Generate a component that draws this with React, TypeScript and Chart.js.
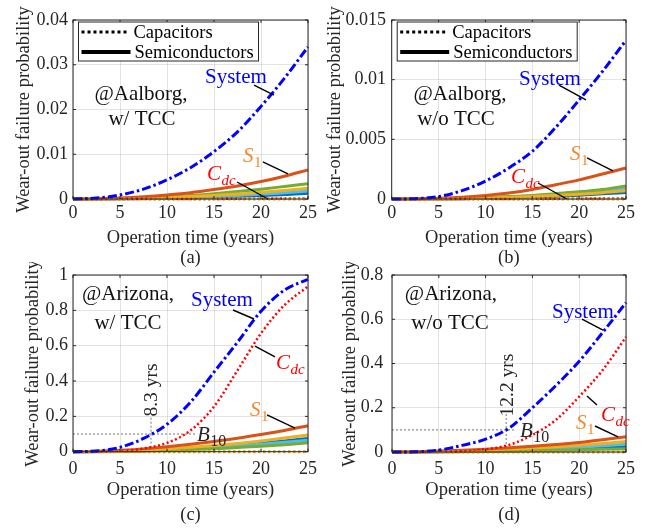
import React, { useEffect, useRef } from "react";
import { Chart, registerables } from "chart.js";

Chart.register(...registerables);

// ---------- data ----------
const years = [0, 2.5, 5, 7.5, 10, 12.5, 15, 17.5, 20, 22.5, 25];

// (a) Aalborg, w/ TCC
const sysA = [0, 0.0002, 0.0009, 0.0022, 0.0043, 0.007, 0.0106, 0.015, 0.0207, 0.027, 0.034];
const cdcA = [0, 0, 0, 0, 0, 0.00001, 0.00002, 0.00004, 0.00007, 0.0001, 0.00015];
const s1A = [0, 0.00003, 0.0002, 0.0005, 0.0009, 0.0014, 0.0021, 0.0029, 0.0039, 0.0051, 0.0065];
const yellowA = [0, 0.00001, 0.00007, 0.00018, 0.00035, 0.00055, 0.0008, 0.0011, 0.0015, 0.0019, 0.0024];
const greenA = [0, 0.00001, 0.0001, 0.00025, 0.0005, 0.0008, 0.0012, 0.0017, 0.0022, 0.0028, 0.0034];
const lblueA = [0, 0.00001, 0.00005, 0.00013, 0.00026, 0.0004, 0.0006, 0.0008, 0.0011, 0.0014, 0.0018];
const dblueA = [0, 0, 0.00004, 0.0001, 0.0002, 0.0003, 0.00045, 0.0006, 0.0008, 0.001, 0.0013];
const capA = [0, 0, 0, 0, 0, 0, 0, 0, 0, 0, 0];

// (b) Aalborg, w/o TCC
const sysB = [0, 0.00003, 0.0002, 0.0007, 0.0015, 0.0026, 0.004, 0.006, 0.0083, 0.0107, 0.0133];
const cdcB = [0, 0, 0, 0, 0, 0, 0.00001, 0.00002, 0.00003, 0.00004, 0.00006];
const s1B = [0, 0.00001, 0.00006, 0.00015, 0.0003, 0.0005, 0.0008, 0.0012, 0.0016, 0.0021, 0.0026];
const yellowB = [0, 0, 0.00001, 0.00004, 0.00008, 0.00013, 0.0002, 0.0003, 0.0004, 0.00053, 0.0007];
const greenB = [0, 0, 0.00002, 0.00006, 0.00012, 0.0002, 0.0003, 0.00045, 0.0006, 0.0008, 0.0011];
const lblueB = [0, 0, 0.00002, 0.00005, 0.0001, 0.00017, 0.00027, 0.0004, 0.00055, 0.0007, 0.0009];
const dblueB = [0, 0, 0.00001, 0.00003, 0.00006, 0.0001, 0.00016, 0.00023, 0.00032, 0.00043, 0.00055];
const capB = [0, 0, 0, 0, 0, 0, 0, 0, 0, 0, 0];

// (c) Arizona, w/ TCC
const sysC = [0, 0.004, 0.025, 0.075, 0.155, 0.28, 0.45, 0.62, 0.795, 0.915, 0.975];
const cdcC = [0, 0.0005, 0.004, 0.018, 0.05, 0.12, 0.255, 0.46, 0.67, 0.83, 0.935];
const s1C = [0, 0.002, 0.008, 0.016, 0.028, 0.042, 0.058, 0.076, 0.097, 0.12, 0.147];
const yellowC = [0, 0.001, 0.004, 0.009, 0.016, 0.025, 0.035, 0.047, 0.061, 0.077, 0.095];
const greenC = [0, 0.0004, 0.0017, 0.004, 0.008, 0.012, 0.017, 0.024, 0.031, 0.04, 0.05];
const lblueC = [0, 0.0006, 0.0025, 0.006, 0.011, 0.017, 0.024, 0.033, 0.042, 0.053, 0.065];
const dblueC = [0, 0.0008, 0.003, 0.007, 0.013, 0.02, 0.028, 0.038, 0.049, 0.061, 0.075];
const capC = [0, 0, 0, 0, 0, 0, 0, 0, 0, 0, 0];

// (d) Arizona, w/o TCC
const sysD = [0, 0.001, 0.009, 0.03, 0.058, 0.108, 0.2, 0.3, 0.41, 0.54, 0.675];
const cdcD = [0, 0, 0.0005, 0.003, 0.012, 0.032, 0.077, 0.145, 0.25, 0.37, 0.52];
const s1D = [0, 0.001, 0.004, 0.008, 0.013, 0.019, 0.026, 0.034, 0.043, 0.055, 0.069];
const yellowD = [0, 0.0006, 0.0025, 0.005, 0.009, 0.013, 0.018, 0.024, 0.03, 0.038, 0.047];
const greenD = [0, 0.0002, 0.0007, 0.0016, 0.0028, 0.0042, 0.0057, 0.0075, 0.0097, 0.012, 0.015];
const lblueD = [0, 0.0004, 0.0018, 0.004, 0.0065, 0.0095, 0.013, 0.017, 0.022, 0.028, 0.035];
const dblueD = [0, 0.0003, 0.0012, 0.0028, 0.0047, 0.007, 0.0095, 0.0125, 0.016, 0.02, 0.025];
const capD = [0, 0, 0, 0, 0, 0, 0, 0, 0, 0, 0];

// B10 lifetimes (years)
const b10C = 8.3;
const b10D = 12.2;

// ---------- styling ----------
const FONT = '"Liberation Serif", "Times New Roman", serif';
const COL = {
  system: "#0000FF",
  cdc: "#FF0000",
  s1: "#D95319",
  yellow: "#EDB120",
  green: "#77AC30",
  lblue: "#4DBEEE",
  dblue: "#0072BD",
  cap: "#E0A020",
  guide: "#8C8C8C",
  s1Label: "#F7882A",
  text: "#262626",
};

type Seg = [number, number, number, number];
type Lbl = { main: string; sub?: string; x: number; y: number; color: string; italic: boolean };

interface Panel {
  key: string;
  left: number; top: number; w: number; h: number;
  padTop: number; padRight: number;
  yWidth: number; xHeight: number;
  yMax: number; yStep: number;
  yTickPad: number; xTickPad: number;
  yTitlePad: number; xTitleLH: number; xTitlePadB: number;
  caption: string;
  sys: number[]; cdc: number[]; s1: number[]; yellow: number[]; green: number[];
  lblue: number[]; dblue: number[]; cap: number[];
  legend: boolean;
  site: [string, string]; siteX: [number, number]; siteY: [number, number];
  labels: Lbl[];
  pointers: Seg[];
  guides: Seg[];
  rot?: { text: string; x: number; y: number };
}

const panels: Panel[] = [
  {
    key: "a", left: 0, top: 0, w: 318, h: 268, padTop: 20, padRight: 10,
    yWidth: 73, xHeight: 69, yMax: 0.04, yStep: 0.01, yTickPad: 5, xTickPad: 3,
    yTitlePad: 14, xTitleLH: 20, xTitlePadB: 0, caption: "(a)",
    sys: sysA, cdc: cdcA, s1: s1A, yellow: yellowA, green: greenA, lblue: lblueA, dblue: dblueA, cap: capA,
    legend: true,
    site: ["@Aalborg,", "w/ TCC"], siteX: [7.23, 7.34], siteY: [0.02213, 0.01654],
    labels: [
      { main: "System", x: 14.04, y: 0.02592, color: COL.system, italic: false },
      { main: "S", sub: "1", x: 18.09, y: 0.00827, color: COL.s1Label, italic: true },
      { main: "C", sub: "dc", x: 14.26, y: 0.00425, color: COL.cdc, italic: true },
    ],
    pointers: [
      [19.26, 0.02547, 21.38, 0.02324],
      [20.2, 0.00827, 22.87, 0.00559],
      [17.45, 0.0038, 20.74, 0],
    ],
    guides: [],
  },
  {
    key: "b", left: 318, top: 0, w: 329, h: 268, padTop: 20, padRight: 21,
    yWidth: 73.7, xHeight: 69, yMax: 0.015, yStep: 0.005, yTickPad: 5.7, xTickPad: 3,
    yTitlePad: 7, xTitleLH: 20, xTitlePadB: 0, caption: "(b)",
    sys: sysB, cdc: cdcB, s1: s1B, yellow: yellowB, green: greenB, lblue: lblueB, dblue: dblueB, cap: capB,
    legend: true,
    site: ["@Aalborg,", "w/o TCC"], siteX: [7.29, 6.86], siteY: [0.0083, 0.0062],
    labels: [
      { main: "System", x: 13.58, y: 0.00955, color: COL.system, italic: false },
      { main: "S", sub: "1", x: 19.03, y: 0.00327, color: COL.s1Label, italic: true },
      { main: "C", sub: "dc", x: 12.73, y: 0.00134, color: COL.cdc, italic: true },
    ],
    pointers: [
      [17.85, 0.00955, 20.73, 0.0083],
      [20.84, 0.00344, 23.61, 0.00235],
      [15.61, 0.00134, 18.7, 0],
    ],
    guides: [],
  },
  {
    key: "c", left: 0, top: 262, w: 318, h: 267, padTop: 13, padRight: 10,
    yWidth: 73, xHeight: 77.3, yMax: 1, yStep: 0.2, yTickPad: 5, xTickPad: 6.5,
    yTitlePad: 23, xTitleLH: 25, xTitlePadB: 1.5, caption: "(c)",
    sys: sysC, cdc: cdcC, s1: s1C, yellow: yellowC, green: greenC, lblue: lblueC, dblue: dblueC, cap: capC,
    legend: false,
    site: ["@Arizona,", "w/ TCC"], siteX: [5.85, 5.85], siteY: [0.8585, 0.694],
    labels: [
      { main: "System", x: 12.55, y: 0.8246, color: COL.system, italic: false },
      { main: "C", sub: "dc", x: 21.6, y: 0.468, color: COL.cdc, italic: true },
      { main: "S", sub: "1", x: 18.83, y: 0.202, color: COL.s1Label, italic: true },
      { main: "B", sub: "10", x: 13.19, y: 0.0606, color: COL.text, italic: true },
    ],
    pointers: [
      [17.02, 0.802, 19.26, 0.751],
      [19.36, 0.598, 21.49, 0.536],
      [20.64, 0.208, 23.62, 0.134],
    ],
    guides: [
      [0, 0.1, 13.2, 0.1],
      [b10C, 0, b10C, 0.2],
    ],
    rot: { text: "8.3 yrs", x: 8.4, y: 0.349 },
  },
  {
    key: "d", left: 318, top: 262, w: 329, h: 267, padTop: 13, padRight: 21,
    yWidth: 74, xHeight: 77, yMax: 0.8, yStep: 0.2, yTickPad: 8.7, xTickPad: 6.5,
    yTitlePad: 22, xTitleLH: 25, xTitlePadB: 1.5, caption: "(d)",
    sys: sysD, cdc: cdcD, s1: s1D, yellow: yellowD, green: greenD, lblue: lblueD, dblue: dblueD, cap: capD,
    legend: false,
    site: ["@Arizona,", "w/o TCC"], siteX: [6.3, 6.2], siteY: [0.687, 0.556],
    labels: [
      { main: "System", x: 17.09, y: 0.606, color: COL.system, italic: false },
      { main: "C", sub: "dc", x: 22.33, y: 0.14, color: COL.cdc, italic: true },
      { main: "S", sub: "1", x: 19.66, y: 0.104, color: COL.s1Label, italic: true },
      { main: "B", sub: "10", x: 13.68, y: 0.0678, color: COL.text, italic: true },
    ],
    pointers: [
      [20.3, 0.601, 22.54, 0.551],
      [20.83, 0.253, 21.9, 0.212],
      [21.69, 0.1175, 24.15, 0.068],
    ],
    guides: [
      [0, 0.1, 13.1, 0.1],
      [b10D, 0, b10D, 0.18],
    ],
    rot: { text: "12.2 yrs", x: 12.39, y: 0.303 },
  },
];

// ---------- helpers ----------
const xy = (arr: number[]) => years.map((x, i) => ({ x, y: arr[i] }));

function curve(arr: number[], color: string, width: number, dash: number[] = []) {
  return {
    data: xy(arr),
    borderColor: color,
    borderWidth: width,
    borderDash: dash,
    borderCapStyle: "butt",
    pointRadius: 0,
    fill: false,
    clip: 4,
    cubicInterpolationMode: "monotone",
  } as any;
}

function seg(s: Seg, color: string, width: number, dash: number[] = []) {
  return {
    data: [{ x: s[0], y: s[1] }, { x: s[2], y: s[3] }],
    borderColor: color,
    borderWidth: width,
    borderDash: dash,
    pointRadius: 0,
    fill: false,
    clip: 4,
    tension: 0,
  } as any;
}

const fmt = (v: number) => String(parseFloat(Number(v).toFixed(4)));

function makeDeco(p: Panel) {
  return {
    id: "deco" + p.key,
    afterDatasetsDraw(chart: any) {
      const ctx: CanvasRenderingContext2D = chart.ctx;
      const { left, right, top, bottom } = chart.chartArea;
      const xs = chart.scales.x;
      const ys = chart.scales.y;
      ctx.save();
      // box
      ctx.strokeStyle = COL.text;
      ctx.lineWidth = 1;
      ctx.setLineDash([]);
      ctx.strokeRect(left, top, right - left, bottom - top);
      // inner ticks
      const tl = 3;
      ctx.beginPath();
      xs.ticks.forEach((t: any) => {
        const px = xs.getPixelForValue(t.value);
        ctx.moveTo(px, bottom); ctx.lineTo(px, bottom - tl);
        ctx.moveTo(px, top); ctx.lineTo(px, top + tl);
      });
      ys.ticks.forEach((t: any) => {
        const py = ys.getPixelForValue(t.value);
        ctx.moveTo(left, py); ctx.lineTo(left + tl, py);
        ctx.moveTo(right, py); ctx.lineTo(right - tl, py);
      });
      ctx.stroke();

      // site text
      ctx.fillStyle = "#111";
      ctx.font = `21px ${FONT}`;
      ctx.textAlign = "center";
      ctx.textBaseline = "alphabetic";
      p.site.forEach((s, i) => {
        ctx.fillText(s, xs.getPixelForValue(p.siteX[i]), ys.getPixelForValue(p.siteY[i]));
      });

      // curve labels
      ctx.textAlign = "left";
      p.labels.forEach((l) => {
        const isB = l.main === "B";
        const size = 21;
        const subSize = isB ? 16 : 15;
        const x = xs.getPixelForValue(l.x);
        const y = ys.getPixelForValue(l.y);
        ctx.fillStyle = l.color;
        ctx.font = `${l.italic ? "italic " : ""}${size}px ${FONT}`;
        ctx.fillText(l.main, x, y);
        if (l.sub) {
          const w = ctx.measureText(l.main).width;
          const subItalic = l.sub === "dc";
          ctx.font = `${subItalic ? "italic " : ""}${subSize}px ${FONT}`;
          ctx.fillText(l.sub, x + w + 0.5, y + 5);
        }
      });

      // rotated B10 lifetime text
      if (p.rot) {
        ctx.save();
        ctx.translate(xs.getPixelForValue(p.rot.x), ys.getPixelForValue(p.rot.y));
        ctx.rotate(-Math.PI / 2);
        ctx.fillStyle = COL.text;
        ctx.font = `19.5px ${FONT}`;
        ctx.textAlign = "center";
        ctx.textBaseline = "middle";
        ctx.fillText(p.rot.text, 0, 0);
        ctx.restore();
      }

      // legend
      if (p.legend) {
        const bx = left + 5.5;
        const by = top + 2;
        const bw = 180;
        const bh = 39;
        ctx.fillStyle = "#fff";
        ctx.fillRect(bx, by, bw, bh);
        ctx.strokeStyle = COL.text;
        ctx.lineWidth = 1;
        ctx.strokeRect(bx, by, bw, bh);
        ctx.strokeStyle = "#000";
        ctx.lineWidth = 3;
        ctx.setLineDash([3, 3]);
        ctx.beginPath();
        ctx.moveTo(bx + 3, by + 10);
        ctx.lineTo(bx + 51, by + 10);
        ctx.stroke();
        ctx.setLineDash([]);
        ctx.lineWidth = 4;
        ctx.beginPath();
        ctx.moveTo(bx + 3, by + 30);
        ctx.lineTo(bx + 52, by + 30);
        ctx.stroke();
        ctx.fillStyle = "#000";
        ctx.font = `18.5px ${FONT}`;
        ctx.textAlign = "left";
        ctx.textBaseline = "alphabetic";
        ctx.fillText("Capacitors", bx + 55, by + 16);
        ctx.fillText("Semiconductors", bx + 56, by + 36);
      }
      ctx.restore();
    },
  };
}

function buildConfig(p: Panel): any {
  const datasets = [
    ...p.pointers.map((s) => seg(s, "#000", 1.4)),
    curve(p.sys, COL.system, 3, [9, 3, 2.5, 3]),
    curve(p.cap, COL.cap, 3, [2.5, 2.5]),
    curve(p.cdc, COL.cdc, 2.5, [2, 2.5]),
    curve(p.s1, COL.s1, 3),
    curve(p.yellow, COL.yellow, 3),
    curve(p.green, COL.green, 3),
    curve(p.lblue, COL.lblue, 3),
    curve(p.dblue, COL.dblue, 3),
    ...p.guides.map((s) => seg(s, COL.guide, 1.2, [2, 2])),
  ];
  return {
    type: "line",
    data: { datasets },
    options: {
      animation: false,
      responsive: false,
      events: [],
      layout: { padding: { top: p.padTop, right: p.padRight, left: 0, bottom: 0 } },
      plugins: { legend: { display: false }, tooltip: { enabled: false } },
      scales: {
        x: {
          type: "linear",
          min: 0,
          max: 25,
          ticks: {
            stepSize: 5,
            color: COL.text,
            padding: p.xTickPad,
            maxRotation: 0,
            font: { family: FONT, size: 18 },
            callback: (v: number) => fmt(v),
          },
          grid: { color: "rgba(0,0,0,0.11)", lineWidth: 1, drawTicks: false },
          border: { display: false },
          title: {
            display: true,
            text: ["Operation time (years)", p.caption],
            color: COL.text,
            font: { family: FONT, size: 18.5, lineHeight: `${p.xTitleLH}px` },
            padding: { top: 0, bottom: p.xTitlePadB },
          },
          afterFit: (s: any) => {
            s.height = p.xHeight;
            s.paddingLeft = 0;
            s.paddingRight = 0;
          },
        },
        y: {
          type: "linear",
          min: 0,
          max: p.yMax,
          ticks: {
            stepSize: p.yStep,
            color: COL.text,
            padding: p.yTickPad,
            font: { family: FONT, size: 18 },
            callback: (v: number) => fmt(v),
          },
          grid: { color: "rgba(0,0,0,0.11)", lineWidth: 1, drawTicks: false },
          border: { display: false },
          title: {
            display: true,
            text: "Wear-out failure probability",
            color: COL.text,
            font: { family: FONT, size: 18.5, lineHeight: "20px" },
            padding: { top: p.yTitlePad, bottom: 0 },
          },
          afterFit: (s: any) => {
            s.width = p.yWidth;
            s.paddingTop = 0;
            s.paddingBottom = 0;
          },
        },
      },
    },
    plugins: [makeDeco(p)],
  };
}

function PanelChart({ p }: { p: Panel }) {
  const ref = useRef<HTMLCanvasElement | null>(null);
  useEffect(() => {
    if (!ref.current) return;
    const chart = new Chart(ref.current, buildConfig(p));
    return () => chart.destroy();
  }, [p]);
  return (
    <canvas
      ref={ref}
      width={p.w}
      height={p.h}
      style={{ position: "absolute", left: p.left, top: p.top, width: p.w, height: p.h }}
    />
  );
}

export default function App() {
  return (
    <div
      style={{
        position: "absolute",
        left: 0,
        top: 0,
        width: 647,
        height: 529,
        background: "#fff",
        overflow: "hidden",
      }}
    >
      {panels.map((p) => (
        <PanelChart key={p.key} p={p} />
      ))}
    </div>
  );
}
